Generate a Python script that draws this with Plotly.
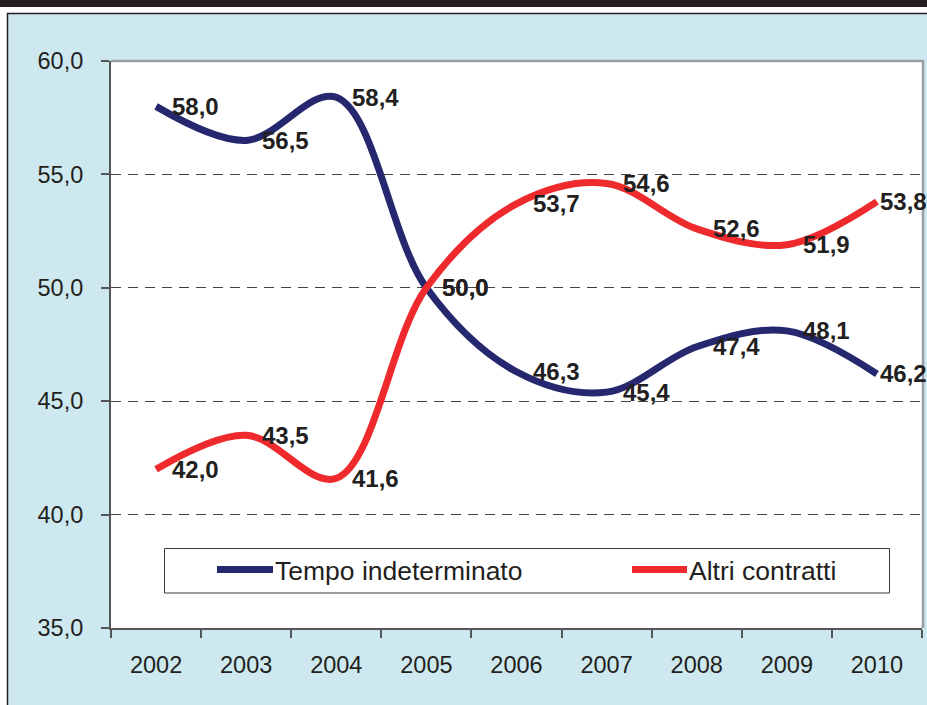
import plotly.graph_objects as go

# ---- data ----
years = ["2002", "2003", "2004", "2005", "2006", "2007", "2008", "2009", "2010"]
tempo_indeterminato = [58.0, 56.5, 58.4, 50.0, 46.3, 45.4, 47.4, 48.1, 46.2]
altri_contratti = [42.0, 43.5, 41.6, 50.0, 53.7, 54.6, 52.6, 51.9, 53.8]
series_names = ["Tempo indeterminato", "Altri contratti"]
y_tick_values = [35, 40, 45, 50, 55, 60]

# ---- styling ----
W, H = 927, 705
L, R, T, B = 111, 922, 61, 628          # plot area in pixels
NAVY = "#25276f"
RED = "#ee2a2c"
TXT = "#231f20"
BLUE_BG = "#cde9ef"
FONT = "Liberation Sans, Arial, Helvetica, sans-serif"


def px(x):
    return (x - L) / (R - L)


def py(y):
    return (B - y) / (B - T)


def fmt(v):
    return f"{v:.1f}".replace(".", ",")


fig = go.Figure()
series = [(series_names[0], tempo_indeterminato, NAVY),
          (series_names[1], altri_contratti, RED)]
for name, vals, col in series:
    fig.add_trace(go.Scatter(
        x=years, y=vals, name=name, mode="lines",
        line=dict(color=col, width=7, shape="spline", smoothing=1.0),
        showlegend=False, cliponaxis=False, hoverinfo="x+y+name",
    ))

annotations = []
for name, vals, col in series:
    for i, v in enumerate(vals):
        last = i == len(vals) - 1
        annotations.append(dict(
            x=i, y=v, xref="x", yref="y", text="<b>" + fmt(v) + "</b>",
            showarrow=False, xanchor="left", yanchor="middle",
            xshift=1 if last else 14,
            font=dict(size=24, color=TXT, family=FONT),
        ))

shapes = []
# frame outside the plot area
shapes.append(dict(type="rect", xref="paper", yref="paper", x0=px(-5), x1=px(935),
                   y0=py(14), y1=py(-5), fillcolor="white", line=dict(width=0)))
shapes.append(dict(type="rect", xref="paper", yref="paper", x0=px(-5), x1=px(7.5),
                   y0=py(710), y1=py(-5), fillcolor="white", line=dict(width=0)))
shapes.append(dict(type="rect", xref="paper", yref="paper", x0=px(-5), x1=px(935),
                   y0=py(7), y1=py(-5), fillcolor="#231f20", line=dict(width=0)))
shapes.append(dict(type="line", xref="paper", yref="paper", x0=px(7), x1=px(935),
                   y0=py(13.5), y1=py(13.5), line=dict(color="#231f20", width=1.5)))
shapes.append(dict(type="line", xref="paper", yref="paper", x0=px(7.5), x1=px(7.5),
                   y0=py(13), y1=py(710), line=dict(color="#231f20", width=1.5)))
# plot-area top and right border
shapes.append(dict(type="line", xref="paper", yref="paper", x0=0, x1=px(924),
                   y0=1, y1=1, line=dict(color="#9a9ea2", width=2.5)))
shapes.append(dict(type="line", xref="paper", yref="paper", x0=px(923), x1=px(923),
                   y0=0, y1=py(60), line=dict(color="#9a9ea2", width=2.5)))

# manual legend box
shapes.append(dict(type="rect", xref="paper", yref="paper", x0=px(164.5), x1=px(889.5),
                   y0=py(593), y1=py(548.5), fillcolor="white",
                   line=dict(color="#3a3a3a", width=1)))
legend_items = [(series_names[0], NAVY, 217, 273, 273),
                (series_names[1], RED, 632, 687, 687)]
for name, col, lx0, lx1, tx in legend_items:
    shapes.append(dict(type="line", xref="paper", yref="paper", x0=px(lx0), x1=px(lx1),
                       y0=py(569.5), y1=py(569.5), line=dict(color=col, width=7)))
    annotations.append(dict(x=px(tx), y=py(571), xref="paper", yref="paper", text=name,
                            showarrow=False, xanchor="left", yanchor="middle",
                            font=dict(size=26.5, color=TXT, family=FONT)))

fig.update_layout(
    width=W, height=H,
    margin=dict(l=L, r=W - R, t=T, b=H - B, pad=0),
    paper_bgcolor=BLUE_BG, plot_bgcolor="white",
    separators=",.",
    font=dict(family=FONT, color=TXT, size=23),
    showlegend=False,
    shapes=shapes, annotations=annotations,
    xaxis=dict(
        type="category", range=[-0.5, len(years) - 0.5], tickson="boundaries",
        ticks="outside", ticklen=8, tickwidth=1.5, tickcolor="#555",
        showline=True, linecolor="#555", linewidth=2,
        showgrid=False, zeroline=False,
        tickfont=dict(size=23.5, color=TXT), ticklabelstandoff=15,
    ),
    yaxis=dict(
        range=[35, 60], tickvals=y_tick_values, tickformat=".1f",
        ticks="outside", ticklen=8, tickwidth=1.5, tickcolor="#555",
        showline=True, linecolor="#555", linewidth=2,
        showgrid=True, gridcolor="#444", gridwidth=1, griddash="10px,7px",
        zeroline=False, tickfont=dict(size=23.5, color=TXT), ticklabelstandoff=13,
    ),
)

fig.write_html("out.html", config={"displayModeBar": False},
               post_script="document.body.style.margin='0';document.body.style.padding='0';")
